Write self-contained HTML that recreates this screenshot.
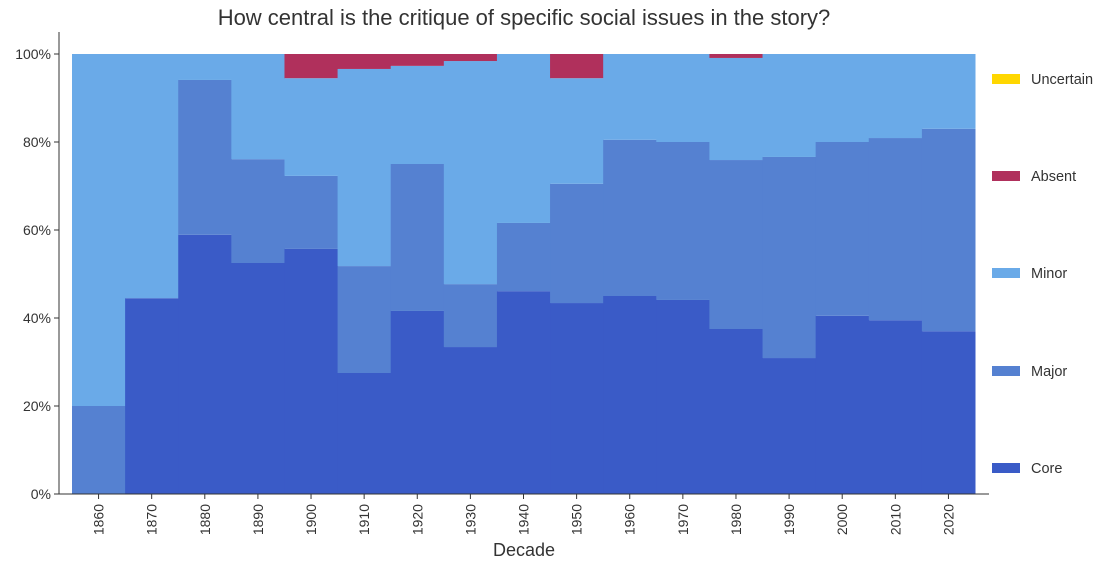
<!DOCTYPE html>
<html><head><meta charset="utf-8"><style>
body{margin:0;background:#fff;font-family:"Liberation Sans",sans-serif;}
svg text{font-family:"Liberation Sans",sans-serif;fill:#333;}
</style></head><body>
<svg id="chart" width="1114" height="569"></svg>
<script>
const decades=["1860","1870","1880","1890","1900","1910","1920","1930","1940","1950","1960","1970","1980","1990","2000","2010","2020"];
const core=[0,44.5,58.9,52.5,55.7,27.5,41.6,33.4,46.1,43.4,45,44.1,37.5,30.9,40.5,39.5,37];
const major=[20,0,35.2,23.6,16.6,24.3,33.4,14.3,15.5,27.1,35.5,35.9,38.4,45.7,39.5,41.4,46];
const minor=[80,55.5,5.9,23.9,22.2,44.8,22.3,50.7,38.4,24,19.5,20,23.2,23.4,20,19.1,17];
const absent=[0,0,0,0,5.5,3.4,2.7,1.6,0,5.5,0,0,0.9,0,0,0,0];
const uncertain=[0,0,0,0,0,0,0,0,0,0,0,0,0,0,0,0,0];
const yTicks=[0,20,40,60,80,100];
const seriesNames=["Core","Major","Minor","Absent","Uncertain"];
const colors=["#3a5bc7","#5581d1","#6aaae8","#b0305c","#ffd700"];
const NS="http://www.w3.org/2000/svg";
const svg=document.getElementById('chart');
const x0=72,x1=975,y0=494,y100=54;
const bw=(x1-x0)/decades.length;
const xs=i=>x0+i*bw;
const ys=v=>y0-(y0-y100)*v/100;
function mk(t,a,p){const e=document.createElementNS(NS,t);for(const k in a)e.setAttribute(k,a[k]);(p||svg).appendChild(e);return e;}
const series=[core,major,minor,absent,uncertain];
decades.forEach((d,i)=>{let acc=0;
 series.forEach((s,j)=>{if(s[i]<=0)return;
  const r=mk('rect',{x:xs(i),y:ys(acc+s[i]),width:bw+0.5,height:ys(acc)-ys(acc+s[i]),fill:colors[j]});
  
  
  acc+=s[i];});
 const cx=xs(i)+bw/2;
 const tk=mk('line',{x1:cx,x2:cx,y1:494,y2:499,stroke:'#333'});
 
 const t=mk('text',{x:cx+5,y:504,'font-size':14,'text-anchor':'end',transform:`rotate(-90 ${cx+5} 504)`});
 t.textContent=d;
});
yTicks.forEach(v=>{const y=ys(v);
 const tk=mk('line',{x1:54,x2:59,y1:y,y2:y,stroke:'#333'});
 
 const t=mk('text',{x:51,y:y+5,'font-size':14,'text-anchor':'end'});
 t.textContent=v+'%';
});
const la=mk('line',{x1:59,x2:59,y1:32,y2:494,stroke:'#333'});

const lb=mk('line',{x1:59,x2:989,y1:494,y2:494,stroke:'#333'});

const title=mk('text',{x:524,y:25,'font-size':22,'text-anchor':'middle'});
title.textContent='How central is the critique of specific social issues in the story?';

const xt=mk('text',{x:524,y:556,'font-size':18,'text-anchor':'middle'});
xt.textContent='Decade';
const legY=[468,371,273,176,79];
seriesNames.forEach((n,j)=>{
 const g=mk('g',{});
 mk('rect',{x:992,y:legY[j]-5,width:28,height:10,fill:colors[j]},g);
 const t=mk('text',{x:1031,y:legY[j]+5,'font-size':14.5},g);t.textContent=n;
});
</script>
</body></html>
